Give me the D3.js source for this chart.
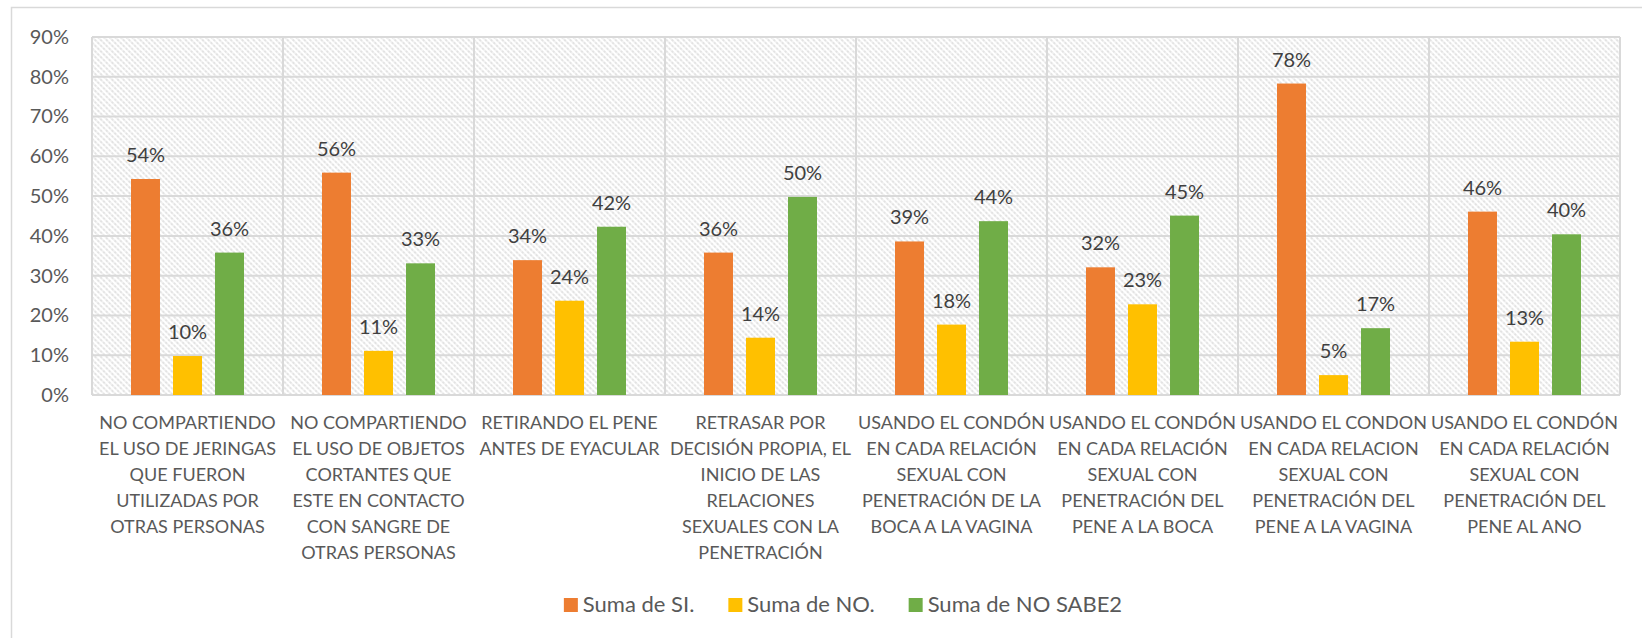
<!DOCTYPE html>
<html>
<head>
  <meta charset="utf-8">
  <title>Prevención</title>
  <script src="https://cdn.jsdelivr.net/npm/d3@7/dist/d3.min.js"></script>
  <style>
    body { margin: 0; background: #fff; }
    text { font-family: Lato, "Open Sans", sans-serif; }
  </style>
</head>
<body>
  <svg width="1642" height="638" id="mainsvg"></svg>
  <script>
    // data
    const categories = [
      ['NO COMPARTIENDO', 'EL USO DE JERINGAS', 'QUE FUERON', 'UTILIZADAS POR', 'OTRAS PERSONAS'],
      ['NO COMPARTIENDO', 'EL USO DE OBJETOS', 'CORTANTES QUE', 'ESTE EN CONTACTO', 'CON SANGRE DE', 'OTRAS PERSONAS'],
      ['RETIRANDO EL PENE', 'ANTES DE EYACULAR'],
      ['RETRASAR POR', 'DECISIÓN PROPIA, EL', 'INICIO DE LAS', 'RELACIONES', 'SEXUALES CON LA', 'PENETRACIÓN'],
      ['USANDO EL CONDÓN', 'EN CADA RELACIÓN', 'SEXUAL CON', 'PENETRACIÓN DE LA', 'BOCA A LA VAGINA'],
      ['USANDO EL CONDÓN', 'EN CADA RELACIÓN', 'SEXUAL CON', 'PENETRACIÓN DEL', 'PENE A LA BOCA'],
      ['USANDO EL CONDON', 'EN CADA RELACION', 'SEXUAL CON', 'PENETRACIÓN DEL', 'PENE A LA VAGINA'],
      ['USANDO EL CONDÓN', 'EN CADA RELACIÓN', 'SEXUAL CON', 'PENETRACIÓN DEL', 'PENE AL ANO']
    ];
    const seriesNames = ['Suma de SI.', 'Suma de NO.', 'Suma de NO SABE2'];
    const seriesColors = ['#ED7D31', '#FFC000', '#70AD47'];
    const siValues = [0.543, 0.559, 0.339, 0.358, 0.386, 0.321, 0.783, 0.461];
    const noValues = [0.098, 0.111, 0.237, 0.144, 0.177, 0.228, 0.050, 0.134];
    const noSabeValues = [0.358, 0.331, 0.423, 0.498, 0.437, 0.451, 0.168, 0.404];
    const yTicks = [0, 0.1, 0.2, 0.3, 0.4, 0.5, 0.6, 0.7, 0.8, 0.9];

    const svg = d3.select('svg');
    const plot = {left: 92, right: 1620, top: 37, bottom: 395};
    const textColor = '#595959';
    const gridColor = '#d9d9d9';
    const fontSize = 18;

    // outer chart border (runs off the right/bottom edge like the reference)
    svg.append('rect')
      .attr('x', 11.5).attr('y', 7.5)
      .attr('width', 1660).attr('height', 660)
      .attr('fill', '#fff').attr('stroke', gridColor).attr('stroke-width', 1.5);

    // hatched plot background
    const pattern = svg.append('defs').append('pattern')
      .attr('id', 'hatch').attr('patternUnits', 'userSpaceOnUse')
      .attr('width', 4).attr('height', 4)
      .attr('patternTransform', 'rotate(45)');
    pattern.append('line')
      .attr('x1', 0).attr('y1', 1).attr('x2', 4).attr('y2', 1)
      .attr('stroke', '#c8c8c8').attr('stroke-width', 1.1)
      .attr('stroke-dasharray', '1.5 1');

    const table = categories.map((c, i) => ({
      key: i,
      lines: c,
      values: [siValues[i], noValues[i], noSabeValues[i]]
    }));

    const x0 = d3.scaleBand().domain(table.map(d => d.key))
      .range([plot.left, plot.right]).padding(0);
    const x1 = d3.scaleBand().domain([0, 1, 2])
      .range([39, x0.bandwidth() - 39]).paddingInner(0.31).paddingOuter(0);
    const y = d3.scaleLinear().domain([0, 0.9]).range([plot.bottom, plot.top]);

    svg.append('rect')
      .attr('x', plot.left).attr('y', plot.top)
      .attr('width', plot.right - plot.left).attr('height', plot.bottom - plot.top)
      .attr('fill', 'url(#hatch)');

    // horizontal gridlines
    svg.append('g').selectAll('line').data(yTicks).join('line')
      .attr('x1', plot.left).attr('x2', plot.right)
      .attr('y1', d => y(d)).attr('y2', d => y(d))
      .attr('stroke', gridColor).attr('stroke-width', 2);

    // vertical category dividers
    const bounds = table.map(d => x0(d.key)).concat([plot.right]);
    svg.append('g').selectAll('line').data(bounds).join('line')
      .attr('x1', d => d).attr('x2', d => d)
      .attr('y1', plot.top).attr('y2', plot.bottom)
      .attr('stroke', gridColor).attr('stroke-width', 2);

    // y axis labels
    const yAxis = d3.axisLeft(y).tickValues(yTicks)
      .tickFormat(d3.format('.0%')).tickSize(0).tickPadding(23);
    const yAxisGroup = svg.append('g')
      .attr('transform', `translate(${plot.left}, 0)`).call(yAxis);
    yAxisGroup.select('.domain').remove();
    yAxisGroup.selectAll('text')
      .attr('font-size', 20).attr('fill', textColor)
      .style('font-family', 'Lato, sans-serif');

    // bars
    const groups = svg.append('g').selectAll('g').data(table).join('g')
      .attr('transform', d => `translate(${x0(d.key)}, 0)`);
    groups.selectAll('rect').data(d => d.values).join('rect')
      .attr('x', (v, i) => x1(i)).attr('width', x1.bandwidth())
      .attr('y', v => y(v)).attr('height', v => y(0) - y(v))
      .attr('fill', (v, i) => seriesColors[i]);

    // data labels
    groups.selectAll('text.val').data(d => d.values).join('text')
      .attr('class', 'val')
      .attr('x', (v, i) => x1(i) + x1.bandwidth() / 2)
      .attr('y', v => y(v) - 17)
      .attr('text-anchor', 'middle')
      .attr('font-size', 20).attr('fill', '#404040')
      .text(v => d3.format('.0%')(v));

    // category labels
    const catText = svg.append('g').selectAll('text').data(table).join('text')
      .attr('text-anchor', 'middle')
      .attr('font-size', fontSize).attr('fill', textColor);
    catText.selectAll('tspan').data(d => d.lines.map(l => ({l, cx: x0(d.key) + x0.bandwidth() / 2})))
      .join('tspan')
      .attr('x', d => d.cx)
      .attr('y', (d, i) => 429 + i * 26)
      .text(d => d.l);

    // legend
    const legend = svg.append('g');
    const items = legend.selectAll('g').data(seriesNames).join('g');
    items.append('rect').attr('width', 14).attr('height', 14)
      .attr('y', 598).attr('fill', (d, i) => seriesColors[i]);
    items.append('text').attr('x', 19).attr('y', 612)
      .attr('font-size', 22).attr('fill', textColor).text(d => d);
    let lx = 0;
    const offsets = [];
    items.each(function() {
      offsets.push(lx);
      lx += 19 + this.querySelector('text').getComputedTextLength() + 34;
    });
    const legendWidth = lx - 34;
    const legendStart = 843 - legendWidth / 2;
    items.attr('transform', (d, i) => `translate(${legendStart + offsets[i]}, 0)`);
  </script>
</body>
</html>
